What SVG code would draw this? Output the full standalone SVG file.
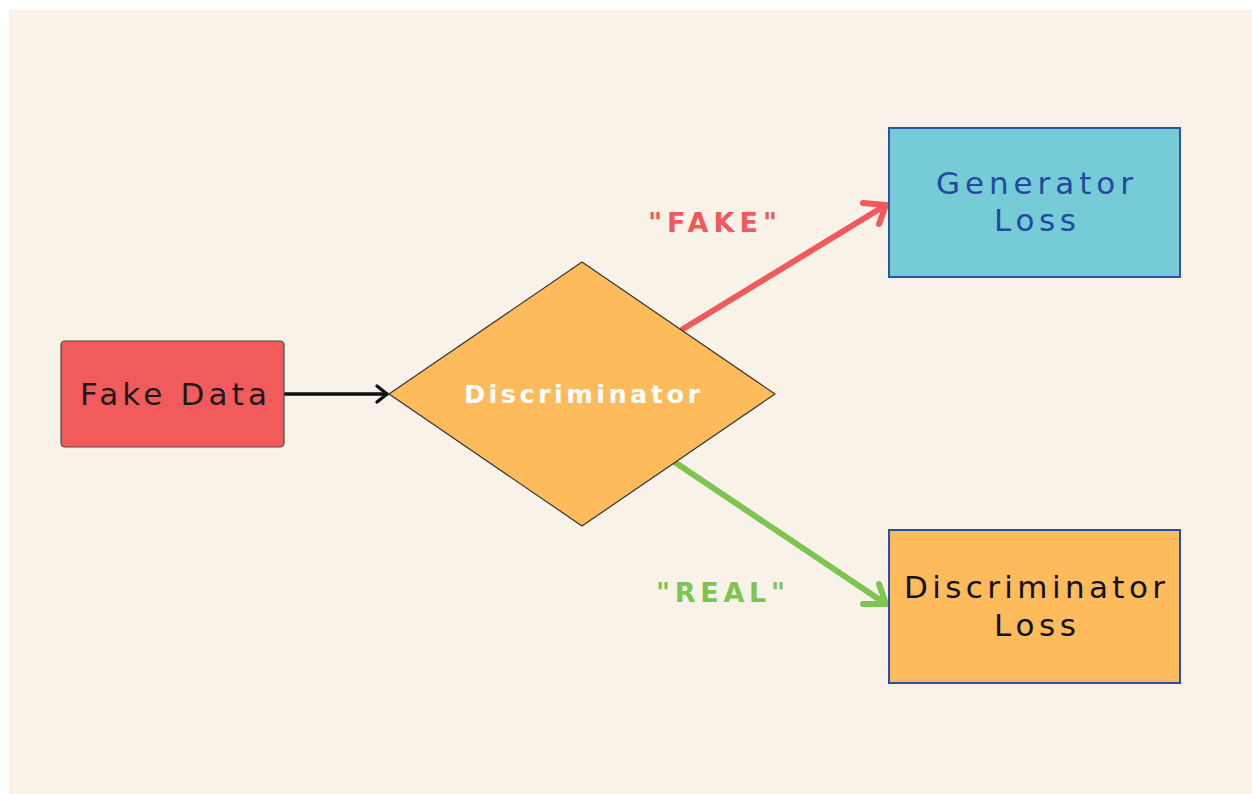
<svg xmlns="http://www.w3.org/2000/svg" width="1252" height="794" viewBox="0 0 1252 794">
<defs>
<style>
.lbl{font-family:"DejaVu Sans","Liberation Sans",sans-serif;text-anchor:middle}
.node{font-size:31px}
.bold{font-weight:bold}
.conn{fill:none;stroke-linecap:round;stroke-linejoin:round}
</style>
</defs>
<rect x="0" y="0" width="1252" height="794" fill="#ffffff"/>
<rect x="9" y="10" width="1243" height="784" fill="#F9F2E9"/>
<g id="connectors">
<g id="c-fake-disc">
<line class="conn" x1="285" y1="394" x2="387" y2="394" stroke="#111" stroke-width="3.4"/>
<polyline class="conn" points="377,386 387,394 377,402" stroke="#111" stroke-width="3.4"/>
</g>
<g id="c-disc-gen">
<line class="conn" x1="683" y1="329" x2="886" y2="205" stroke="#F05A5A" stroke-width="6"/>
<polyline class="conn" points="863,203 886,205 879,224" stroke="#F05A5A" stroke-width="6"/>
</g>
<g id="c-disc-dloss">
<line class="conn" x1="673" y1="461" x2="886" y2="604" stroke="#7EC450" stroke-width="6"/>
<polyline class="conn" points="879,584 886,604 863,604" stroke="#7EC450" stroke-width="6"/>
</g>
<text class="lbl bold" x="712.5" y="232" font-size="27" textLength="129" lengthAdjust="spacing" fill="#F05A5A">"FAKE"</text>
<text class="lbl bold" x="720.5" y="602" font-size="27" textLength="129" lengthAdjust="spacing" fill="#7EC450">"REAL"</text>
</g>
<g id="node-fake-data">
<rect x="61" y="341" width="223" height="106" rx="4" fill="#F25B5B" stroke="#4a4a4a" stroke-width="1.2"/>
<text class="lbl node" x="173.5" y="405" textLength="187" lengthAdjust="spacing" fill="#1a1a1a">Fake Data</text>
</g>
<g id="node-discriminator">
<polygon points="389,394 582,262 775,394 582,526" fill="#FDBB5C" stroke="#333" stroke-width="1.2" stroke-linejoin="round"/>
<text class="lbl bold" x="582" y="403" font-size="25.5" textLength="236" lengthAdjust="spacing" fill="#ffffff">Discriminator</text>
</g>
<g id="node-generator-loss">
<rect x="889" y="128" width="291" height="149" fill="#76CCD6" stroke="#2A55A8" stroke-width="2"/>
<text class="lbl node" x="1034.5" y="194" textLength="197" lengthAdjust="spacing" fill="#2548A0">Generator</text>
<text class="lbl node" x="1035" y="231" textLength="82" lengthAdjust="spacing" fill="#2548A0">Loss</text>
</g>
<g id="node-discriminator-loss">
<rect x="889" y="530" width="291" height="153" fill="#FDBB5C" stroke="#2A4FA8" stroke-width="2"/>
<text class="lbl node" x="1034.5" y="598" textLength="261" lengthAdjust="spacing" fill="#111">Discriminator</text>
<text class="lbl node" x="1035" y="636" textLength="82" lengthAdjust="spacing" fill="#111">Loss</text>
</g>
</svg>
